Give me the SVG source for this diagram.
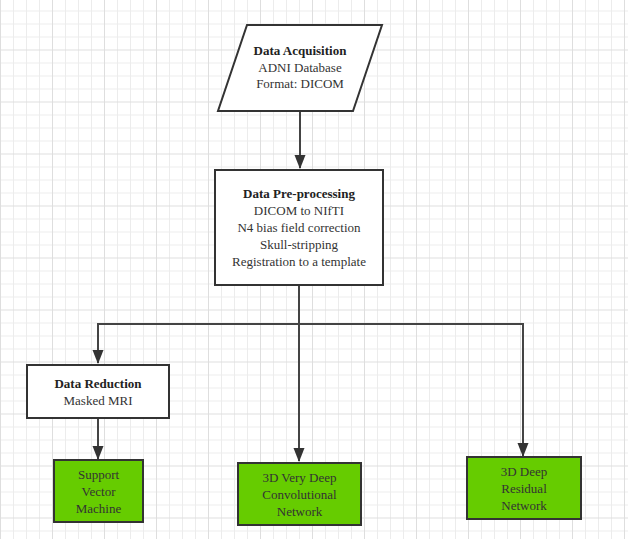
<svg xmlns="http://www.w3.org/2000/svg" width="628" height="539" viewBox="0 0 628 539">
<style>
.box{fill:#fff;stroke:#333;stroke-width:2}
.green{fill:#66cc00;stroke:#333;stroke-width:2}
.t{font-family:"Liberation Serif","Times New Roman",serif;font-size:13px;fill:#333;text-anchor:middle}
.b{font-weight:bold;fill:#222}
.conn{fill:none;stroke:#444;stroke-width:2}
</style>
<defs>
<pattern id="grid" patternUnits="userSpaceOnUse" x="0" y="-2.5" width="52" height="52">
<rect x="0" y="0" width="52" height="52" fill="#fff"/>
<g fill="#ececec">
<rect x="13" y="0" width="1" height="52"/><rect x="26" y="0" width="1" height="52"/><rect x="39" y="0" width="1" height="52"/>
<rect x="0" y="13" width="52" height="1"/><rect x="0" y="26" width="52" height="1"/><rect x="0" y="39" width="52" height="1"/>
</g>
<g fill="#dedede">
<rect x="0" y="0" width="1" height="52"/><rect x="0" y="0" width="52" height="1"/>
</g>
</pattern>
<marker id="ad" markerUnits="userSpaceOnUse" markerWidth="14" markerHeight="12" refX="13" refY="5.5" orient="auto" viewBox="0 0 14 11">
<path d="M0,0 L14,5.5 L0,11 Z" fill="#333"/>
</marker>
</defs>
<rect width="628" height="539" fill="url(#grid)"/>
<g id="connectors">
<path class="conn" d="M300,112 V168" marker-end="url(#ad)"/>
<path class="conn" d="M299,286 V324 H98 V363" marker-end="url(#ad)"/>
<path class="conn" d="M299,324 V461" marker-end="url(#ad)"/>
<path class="conn" d="M299,324 H523 V456" marker-end="url(#ad)"/>
<path class="conn" d="M98,419 V459" marker-end="url(#ad)"/>
</g>
<g id="acquisition">
<polygon class="box" points="247,25 382,25 353,111 218,111"/>
<text class="t b" x="300" y="55">Data Acquisition</text>
<text class="t" x="300" y="72">ADNI Database</text>
<text class="t" x="300" y="88">Format: DICOM</text>
</g>
<g id="preprocessing">
<rect class="box" x="215" y="170" width="168" height="115"/>
<text class="t b" x="299" y="198">Data Pre-processing</text>
<text class="t" x="299" y="215">DICOM to NIfTI</text>
<text class="t" x="299" y="232">N4 bias field correction</text>
<text class="t" x="299" y="249">Skull-stripping</text>
<text class="t" x="299" y="266">Registration to a template</text>
</g>
<g id="reduction">
<rect class="box" x="27" y="365" width="142" height="53"/>
<text class="t b" x="98" y="388">Data Reduction</text>
<text class="t" x="98" y="405">Masked MRI</text>
</g>
<g id="svm">
<rect class="green" x="54" y="460" width="89" height="62"/>
<text class="t" x="98.5" y="479">Support</text>
<text class="t" x="98.5" y="496">Vector</text>
<text class="t" x="98.5" y="513">Machine</text>
</g>
<g id="vdcn">
<rect class="green" x="238" y="463" width="123" height="62"/>
<text class="t" x="299.5" y="482">3D Very Deep</text>
<text class="t" x="299.5" y="499">Convolutional</text>
<text class="t" x="299.5" y="516">Network</text>
</g>
<g id="resnet">
<rect class="green" x="467" y="457" width="114" height="62"/>
<text class="t" x="524" y="476">3D Deep</text>
<text class="t" x="524" y="493">Residual</text>
<text class="t" x="524" y="510">Network</text>
</g>
</svg>
